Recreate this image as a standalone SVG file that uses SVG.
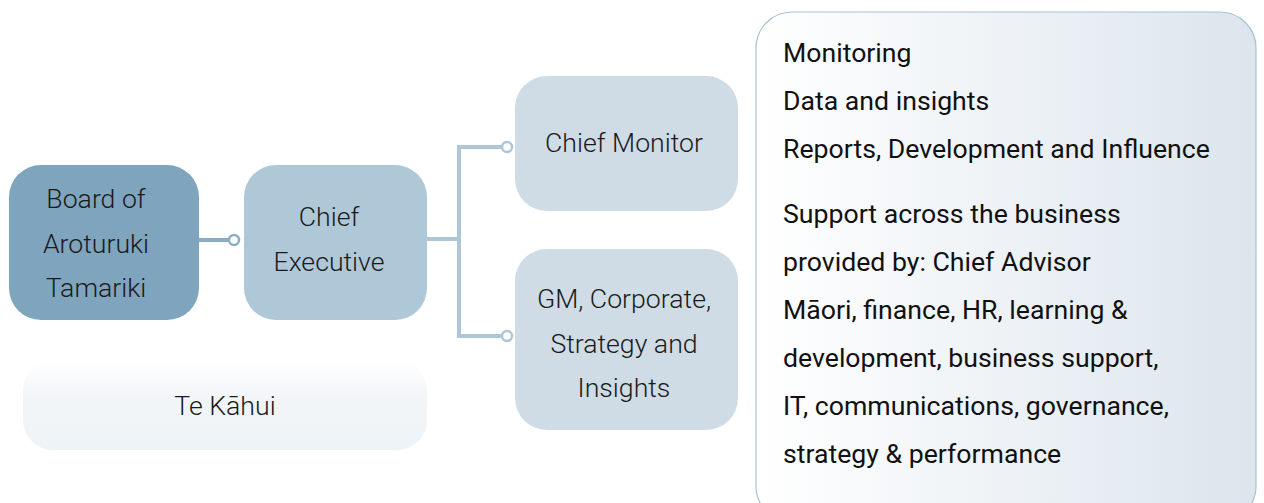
<svg xmlns="http://www.w3.org/2000/svg" width="1264" height="503" viewBox="0 0 1264 503">
  <defs>
    <linearGradient id="fadeDown" x1="0" y1="0" x2="0" y2="1">
      <stop offset="0" stop-color="#ffffff"/>
      <stop offset="0.45" stop-color="#f1f5f8"/>
      <stop offset="1" stop-color="#eef3f7"/>
    </linearGradient>
    <linearGradient id="fadeRight" x1="0" y1="0" x2="1" y2="0">
      <stop offset="0" stop-color="#ffffff"/>
      <stop offset="1" stop-color="#dce5ed"/>
    </linearGradient>
    <style>
      .lbl { font-family: Roboto, "Liberation Sans", sans-serif; font-weight: 300; font-size: 26.67px; fill: #1a1a1a; text-anchor: middle; }
      .item { font-family: Roboto, "Liberation Sans", sans-serif; font-weight: 400; font-size: 26.67px; fill: #111111; }
      .wire { fill: none; stroke-width: 4; }
      .dot { fill: #ffffff; stroke-width: 2.5; }
    </style>
  </defs>
  <rect width="1264" height="503" fill="#ffffff"/>

  <g id="te-kahui">
    <rect x="23" y="360" width="404" height="90" rx="30" fill="url(#fadeDown)"/>
    <text class="lbl" x="225" y="415">Te Kāhui</text>
  </g>

  <g id="connectors">
    <path class="wire" stroke="#8aaec5" d="M199 240 H229"/>
    <circle class="dot" stroke="#8aaec5" cx="234" cy="240" r="5"/>
    <path class="wire" stroke="#adc7d7" d="M427 239 H459 M459 147 V336 M457 147 H502 M457 336 H502"/>
    <circle class="dot" stroke="#adc7d7" cx="507" cy="147" r="5"/>
    <circle class="dot" stroke="#adc7d7" cx="507" cy="336" r="5"/>
  </g>

  <g id="board">
    <rect x="9" y="165" width="190" height="155" rx="32" fill="#7fa5be"/>
    <text class="lbl" x="96" y="208">Board of</text>
    <text class="lbl" x="96" y="253">Aroturuki</text>
    <text class="lbl" x="96" y="297">Tamariki</text>
  </g>

  <g id="chief-executive">
    <rect x="244" y="165" width="183" height="155" rx="32" fill="#afc8d8"/>
    <text class="lbl" x="329" y="226">Chief</text>
    <text class="lbl" x="329" y="271">Executive</text>
  </g>

  <g id="chief-monitor">
    <rect x="515" y="76" width="223" height="135" rx="32" fill="#cfdce5"/>
    <text class="lbl" x="624" y="152">Chief Monitor</text>
  </g>

  <g id="gm-corporate">
    <rect x="515" y="249" width="223" height="181" rx="32" fill="#cfdce5"/>
    <text class="lbl" x="624" y="308">GM, Corporate,</text>
    <text class="lbl" x="624" y="353">Strategy and</text>
    <text class="lbl" x="624" y="397">Insights</text>
  </g>

  <g id="functions">
    <rect x="756" y="12" width="500" height="510" rx="36" fill="url(#fadeRight)" stroke="#a9c2d4" stroke-width="1.2"/>
    <text class="item" x="783" y="62">Monitoring</text>
    <text class="item" x="783" y="110">Data and insights</text>
    <text class="item" x="783" y="158">Reports, Development and Influence</text>
    <text class="item" x="783" y="223">Support across the business</text>
    <text class="item" x="783" y="271">provided by: Chief Advisor</text>
    <text class="item" x="783" y="319">Māori, finance, HR, learning &amp;</text>
    <text class="item" x="783" y="367">development, business support,</text>
    <text class="item" x="783" y="415">IT, communications, governance,</text>
    <text class="item" x="783" y="463">strategy &amp; performance</text>
  </g>
</svg>
